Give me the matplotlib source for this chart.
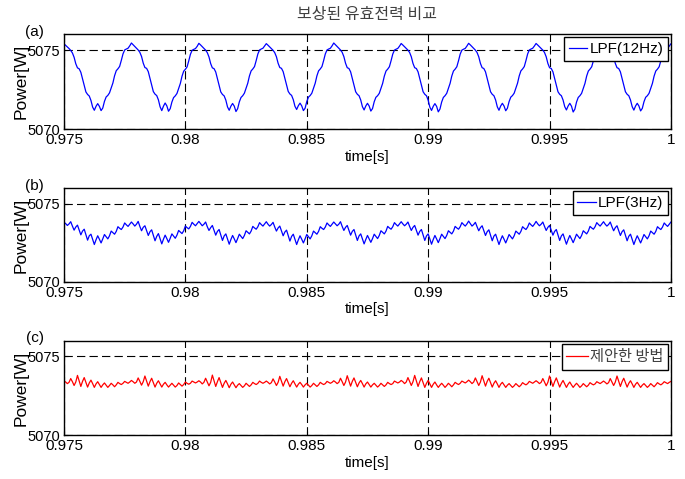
import numpy as np
import matplotlib
matplotlib.use("Agg")
import matplotlib.pyplot as plt

plt.rcParams['font.family'] = ['Liberation Sans', 'DejaVu Sans']

# labels
title = "보상된 유효전력 비교"
panel_tags = ["(a)", "(b)", "(c)"]
legend_labels = ["LPF(12Hz)", "LPF(3Hz)", "제안한 방법"]
line_colors = ["#0000ff", "#0000ff", "#ff0000"]
x_ticks = [0.975, 0.98, 0.985, 0.99, 0.995, 1.0]
x_tick_labels = ["0.975", "0.98", "0.985", "0.99", "0.995", "1"]
y_ticks = [5070, 5075]

# sample grid (0.975 s .. 1.0 s, 361 samples)
time = np.linspace(0.975, 1.0, 361)

# values, one line per 360 Hz cycle
power_lpf12 = [
    5075.40, 5075.30, 5075.20, 5075.10, 5074.98, 5074.82, 5074.55, 5074.14, 5073.88, 5073.82, 5073.60, 5073.18, 5072.76, 5072.36, 5072.20, 5072.10, 5071.82, 5071.40, 5071.20, 5071.45, 5071.62, 5071.45, 5071.18, 5071.34, 5071.76, 5072.04, 5072.14, 5072.30, 5072.60, 5072.92, 5073.38, 5073.70, 5073.82, 5073.97, 5074.35, 5074.76, 5075.01, 5075.07, 5075.12, 5075.27,
    5075.45, 5075.34, 5075.22, 5075.12, 5075.01, 5074.86, 5074.60, 5074.18, 5073.90, 5073.85, 5073.64, 5073.22, 5072.80, 5072.38, 5072.22, 5072.13, 5071.86, 5071.42, 5071.18, 5071.46, 5071.66, 5071.48, 5071.14, 5071.30, 5071.72, 5072.00, 5072.11, 5072.26, 5072.57, 5072.89, 5073.35, 5073.67, 5073.79, 5073.94, 5074.32, 5074.74, 5074.99, 5075.05, 5075.10, 5075.24,
    5075.43, 5075.33, 5075.22, 5075.11, 5075.00, 5074.84, 5074.57, 5074.15, 5073.88, 5073.83, 5073.62, 5073.20, 5072.78, 5072.36, 5072.20, 5072.11, 5071.84, 5071.41, 5071.20, 5071.46, 5071.63, 5071.46, 5071.12, 5071.30, 5071.73, 5072.01, 5072.12, 5072.28, 5072.59, 5072.91, 5073.37, 5073.69, 5073.81, 5073.96, 5074.34, 5074.76, 5075.01, 5075.07, 5075.12, 5075.26,
    5075.41, 5075.31, 5075.20, 5075.10, 5074.99, 5074.84, 5074.58, 5074.17, 5073.90, 5073.85, 5073.64, 5073.22, 5072.80, 5072.39, 5072.23, 5072.14, 5071.87, 5071.45, 5071.25, 5071.49, 5071.65, 5071.48, 5071.18, 5071.33, 5071.75, 5072.03, 5072.13, 5072.28, 5072.59, 5072.91, 5073.37, 5073.69, 5073.81, 5073.96, 5074.34, 5074.76, 5075.01, 5075.07, 5075.12, 5075.27,
    5075.45, 5075.34, 5075.23, 5075.12, 5075.01, 5074.86, 5074.59, 5074.17, 5073.89, 5073.84, 5073.63, 5073.21, 5072.79, 5072.37, 5072.21, 5072.12, 5071.85, 5071.43, 5071.22, 5071.47, 5071.64, 5071.47, 5071.15, 5071.31, 5071.74, 5072.02, 5072.12, 5072.27, 5072.58, 5072.90, 5073.36, 5073.68, 5073.80, 5073.95, 5074.33, 5074.75, 5075.00, 5075.06, 5075.11, 5075.25,
    5075.42, 5075.32, 5075.21, 5075.11, 5075.00, 5074.85, 5074.58, 5074.16, 5073.89, 5073.84, 5073.63, 5073.21, 5072.79, 5072.37, 5072.21, 5072.12, 5071.84, 5071.40, 5071.19, 5071.45, 5071.62, 5071.45, 5071.10, 5071.28, 5071.72, 5072.01, 5072.12, 5072.27, 5072.58, 5072.90, 5073.36, 5073.68, 5073.80, 5073.95, 5074.33, 5074.75, 5075.00, 5075.06, 5075.11, 5075.26,
    5075.43, 5075.33, 5075.22, 5075.11, 5075.00, 5074.85, 5074.58, 5074.16, 5073.89, 5073.84, 5073.63, 5073.21, 5072.79, 5072.37, 5072.21, 5072.12, 5071.85, 5071.42, 5071.20, 5071.47, 5071.64, 5071.47, 5071.17, 5071.33, 5071.75, 5072.03, 5072.13, 5072.28, 5072.59, 5072.91, 5073.37, 5073.69, 5073.81, 5073.96, 5074.34, 5074.76, 5075.01, 5075.07, 5075.12, 5075.26,
    5075.42, 5075.32, 5075.21, 5075.11, 5075.00, 5074.85, 5074.58, 5074.16, 5073.89, 5073.84, 5073.63, 5073.21, 5072.79, 5072.37, 5072.21, 5072.12, 5071.85, 5071.43, 5071.22, 5071.47, 5071.64, 5071.46, 5071.09, 5071.27, 5071.72, 5072.01, 5072.12, 5072.27, 5072.58, 5072.90, 5073.36, 5073.68, 5073.80, 5073.95, 5074.33, 5074.75, 5075.00, 5075.06, 5075.11, 5075.25,
    5075.42, 5075.32, 5075.21, 5075.11, 5075.00, 5074.85, 5074.58, 5074.16, 5073.89, 5073.84, 5073.63, 5073.21, 5072.79, 5072.37, 5072.21, 5072.12, 5071.85, 5071.43, 5071.21, 5071.47, 5071.64, 5071.47, 5071.16, 5071.32, 5071.74, 5072.02, 5072.12, 5072.27, 5072.58, 5072.90, 5073.36, 5073.68, 5073.80, 5073.95, 5074.33, 5074.75, 5075.00, 5075.06, 5075.11, 5075.25,
    5075.40,
]

power_lpf3 = [
    5073.82, 5073.74, 5073.62, 5073.72, 5073.86, 5073.58, 5073.32, 5073.52, 5073.64, 5073.32, 5073.02, 5073.26, 5073.38, 5073.04, 5072.68, 5072.96, 5073.06, 5072.74, 5072.40, 5072.70, 5072.96, 5072.74, 5072.50, 5072.76, 5073.04, 5072.90, 5072.76, 5072.96, 5073.26, 5073.16, 5073.06, 5073.24, 5073.54, 5073.44, 5073.36, 5073.52, 5073.78, 5073.66, 5073.56, 5073.70,
    5073.84, 5073.72, 5073.58, 5073.70, 5073.88, 5073.56, 5073.28, 5073.50, 5073.60, 5073.28, 5072.98, 5073.22, 5073.34, 5073.00, 5072.64, 5072.92, 5073.10, 5072.78, 5072.44, 5072.74, 5073.00, 5072.78, 5072.54, 5072.80, 5073.08, 5072.94, 5072.80, 5073.00, 5073.30, 5073.20, 5073.10, 5073.28, 5073.58, 5073.48, 5073.40, 5073.56, 5073.82, 5073.70, 5073.60, 5073.74,
    5073.88, 5073.74, 5073.60, 5073.70, 5073.84, 5073.54, 5073.30, 5073.48, 5073.62, 5073.30, 5073.00, 5073.24, 5073.36, 5073.02, 5072.66, 5072.95, 5073.08, 5072.76, 5072.42, 5072.72, 5072.98, 5072.76, 5072.52, 5072.78, 5073.06, 5072.92, 5072.78, 5072.98, 5073.28, 5073.18, 5073.08, 5073.26, 5073.56, 5073.46, 5073.38, 5073.54, 5073.80, 5073.68, 5073.58, 5073.72,
    5073.86, 5073.70, 5073.58, 5073.68, 5073.82, 5073.52, 5073.26, 5073.46, 5073.58, 5073.26, 5072.96, 5073.20, 5073.32, 5072.98, 5072.62, 5072.92, 5073.06, 5072.74, 5072.40, 5072.70, 5072.96, 5072.74, 5072.50, 5072.76, 5073.04, 5072.90, 5072.76, 5072.96, 5073.26, 5073.16, 5073.06, 5073.24, 5073.54, 5073.44, 5073.36, 5073.52, 5073.78, 5073.66, 5073.56, 5073.70,
    5073.84, 5073.72, 5073.60, 5073.70, 5073.86, 5073.56, 5073.30, 5073.50, 5073.62, 5073.30, 5073.00, 5073.24, 5073.36, 5073.02, 5072.66, 5072.95, 5073.08, 5072.76, 5072.44, 5072.72, 5072.98, 5072.76, 5072.54, 5072.78, 5073.06, 5072.92, 5072.78, 5072.98, 5073.28, 5073.18, 5073.08, 5073.26, 5073.56, 5073.46, 5073.38, 5073.54, 5073.80, 5073.68, 5073.58, 5073.72,
    5073.86, 5073.72, 5073.60, 5073.70, 5073.84, 5073.56, 5073.30, 5073.50, 5073.62, 5073.30, 5073.00, 5073.24, 5073.36, 5073.02, 5072.66, 5072.95, 5073.08, 5072.76, 5072.42, 5072.72, 5072.98, 5072.76, 5072.52, 5072.78, 5073.06, 5072.92, 5072.78, 5072.98, 5073.28, 5073.18, 5073.08, 5073.26, 5073.56, 5073.46, 5073.38, 5073.54, 5073.80, 5073.68, 5073.58, 5073.72,
    5073.90, 5073.74, 5073.58, 5073.68, 5073.82, 5073.54, 5073.28, 5073.48, 5073.60, 5073.28, 5072.98, 5073.22, 5073.34, 5073.00, 5072.64, 5072.94, 5073.06, 5072.74, 5072.40, 5072.70, 5072.96, 5072.74, 5072.50, 5072.76, 5073.04, 5072.90, 5072.76, 5072.96, 5073.26, 5073.16, 5073.06, 5073.24, 5073.54, 5073.44, 5073.36, 5073.52, 5073.78, 5073.66, 5073.56, 5073.70,
    5073.88, 5073.72, 5073.60, 5073.70, 5073.84, 5073.56, 5073.30, 5073.50, 5073.62, 5073.30, 5073.00, 5073.24, 5073.36, 5073.02, 5072.66, 5072.95, 5073.08, 5072.76, 5072.42, 5072.72, 5072.98, 5072.76, 5072.52, 5072.78, 5073.06, 5072.92, 5072.78, 5072.98, 5073.28, 5073.18, 5073.08, 5073.26, 5073.56, 5073.46, 5073.38, 5073.54, 5073.80, 5073.68, 5073.58, 5073.72,
    5073.86, 5073.70, 5073.58, 5073.68, 5073.84, 5073.54, 5073.28, 5073.48, 5073.60, 5073.28, 5072.98, 5073.22, 5073.34, 5073.00, 5072.64, 5072.93, 5073.06, 5072.74, 5072.40, 5072.70, 5072.96, 5072.74, 5072.50, 5072.76, 5073.04, 5072.90, 5072.76, 5072.96, 5073.26, 5073.16, 5073.06, 5073.24, 5073.54, 5073.44, 5073.36, 5073.52, 5073.78, 5073.66, 5073.56, 5073.70,
    5073.84,
]

power_proposed = [
    5073.44, 5073.38, 5073.28, 5073.36, 5073.60, 5073.40, 5073.16, 5073.38, 5073.80, 5073.46, 5073.10, 5073.42, 5073.66, 5073.36, 5073.06, 5073.32, 5073.50, 5073.28, 5073.04, 5073.26, 5073.40, 5073.22, 5073.04, 5073.20, 5073.32, 5073.18, 5073.04, 5073.16, 5073.30, 5073.20, 5073.08, 5073.20, 5073.36, 5073.28, 5073.22, 5073.30, 5073.42, 5073.36, 5073.30, 5073.38,
    5073.48, 5073.40, 5073.30, 5073.38, 5073.64, 5073.42, 5073.18, 5073.40, 5073.76, 5073.44, 5073.12, 5073.40, 5073.62, 5073.34, 5073.06, 5073.30, 5073.46, 5073.26, 5073.06, 5073.24, 5073.36, 5073.20, 5073.06, 5073.18, 5073.30, 5073.18, 5073.06, 5073.16, 5073.32, 5073.22, 5073.12, 5073.22, 5073.38, 5073.30, 5073.24, 5073.30, 5073.44, 5073.38, 5073.32, 5073.38,
    5073.46, 5073.38, 5073.26, 5073.36, 5073.62, 5073.38, 5073.14, 5073.36, 5073.82, 5073.46, 5073.10, 5073.40, 5073.66, 5073.34, 5073.04, 5073.30, 5073.48, 5073.26, 5073.02, 5073.24, 5073.38, 5073.20, 5073.02, 5073.18, 5073.28, 5073.16, 5073.04, 5073.14, 5073.30, 5073.20, 5073.10, 5073.20, 5073.36, 5073.28, 5073.22, 5073.30, 5073.44, 5073.36, 5073.30, 5073.36,
    5073.44, 5073.36, 5073.26, 5073.34, 5073.58, 5073.38, 5073.16, 5073.36, 5073.74, 5073.44, 5073.12, 5073.40, 5073.60, 5073.34, 5073.08, 5073.30, 5073.46, 5073.26, 5073.06, 5073.24, 5073.36, 5073.22, 5073.06, 5073.20, 5073.30, 5073.18, 5073.06, 5073.16, 5073.30, 5073.20, 5073.10, 5073.20, 5073.36, 5073.28, 5073.22, 5073.28, 5073.42, 5073.36, 5073.30, 5073.36,
    5073.46, 5073.38, 5073.28, 5073.36, 5073.62, 5073.40, 5073.16, 5073.38, 5073.78, 5073.46, 5073.12, 5073.42, 5073.64, 5073.36, 5073.08, 5073.32, 5073.48, 5073.28, 5073.06, 5073.26, 5073.38, 5073.22, 5073.06, 5073.20, 5073.30, 5073.18, 5073.06, 5073.16, 5073.30, 5073.20, 5073.10, 5073.20, 5073.36, 5073.28, 5073.22, 5073.28, 5073.44, 5073.38, 5073.32, 5073.38,
    5073.48, 5073.40, 5073.28, 5073.38, 5073.66, 5073.42, 5073.16, 5073.40, 5073.80, 5073.46, 5073.10, 5073.40, 5073.64, 5073.34, 5073.04, 5073.30, 5073.48, 5073.26, 5073.04, 5073.24, 5073.38, 5073.20, 5073.04, 5073.18, 5073.30, 5073.18, 5073.04, 5073.16, 5073.30, 5073.20, 5073.08, 5073.20, 5073.36, 5073.28, 5073.22, 5073.30, 5073.44, 5073.38, 5073.32, 5073.40,
    5073.50, 5073.40, 5073.28, 5073.38, 5073.64, 5073.40, 5073.16, 5073.38, 5073.78, 5073.46, 5073.12, 5073.42, 5073.62, 5073.34, 5073.06, 5073.30, 5073.46, 5073.26, 5073.04, 5073.24, 5073.36, 5073.20, 5073.04, 5073.18, 5073.28, 5073.16, 5073.04, 5073.14, 5073.28, 5073.18, 5073.08, 5073.18, 5073.34, 5073.26, 5073.20, 5073.28, 5073.42, 5073.36, 5073.30, 5073.38,
    5073.46, 5073.38, 5073.28, 5073.36, 5073.60, 5073.38, 5073.14, 5073.36, 5073.76, 5073.44, 5073.10, 5073.40, 5073.64, 5073.34, 5073.06, 5073.30, 5073.48, 5073.26, 5073.04, 5073.24, 5073.38, 5073.20, 5073.04, 5073.18, 5073.30, 5073.18, 5073.04, 5073.14, 5073.28, 5073.18, 5073.08, 5073.18, 5073.34, 5073.26, 5073.20, 5073.26, 5073.40, 5073.34, 5073.28, 5073.36,
    5073.44, 5073.36, 5073.26, 5073.34, 5073.60, 5073.38, 5073.16, 5073.38, 5073.76, 5073.44, 5073.10, 5073.40, 5073.62, 5073.34, 5073.06, 5073.30, 5073.46, 5073.26, 5073.04, 5073.24, 5073.36, 5073.20, 5073.04, 5073.18, 5073.28, 5073.16, 5073.04, 5073.14, 5073.28, 5073.18, 5073.08, 5073.20, 5073.34, 5073.26, 5073.20, 5073.28, 5073.40, 5073.34, 5073.28, 5073.36,
    5073.42,
]

series = [power_lpf12, power_lpf3, power_proposed]
rects = [
    [0.0934, 0.7301, 0.8861, 0.1983],
    [0.0934, 0.4113, 0.8861, 0.1956],
    [0.0934, 0.0912, 0.8861, 0.1975],
]
kr_font = ['Noto Sans CJK KR', 'DejaVu Sans']

fig = plt.figure(figsize=(6.85, 4.79), dpi=100)
fig.text(0.536, 0.969, title, ha='center', va='center', fontsize=11.5,
         family=kr_font, color='#404040')

for i, (rect, vals) in enumerate(zip(rects, series)):
    ax = fig.add_axes(rect)
    ax.plot(time, vals, color=line_colors[i], lw=0.9, label=legend_labels[i])
    ax.set_xlim(0.975, 1.0)
    ax.set_ylim(5070, 5076)
    ax.set_xticks(x_ticks)
    ax.set_xticklabels(x_tick_labels)
    ax.set_yticks(y_ticks)
    ax.grid(True, color='black', linestyle=(0, (7.5, 3.75)), linewidth=0.8)
    ax.tick_params(direction='in', length=3, pad=3)
    ax.tick_params(axis='x', labelsize=11)
    ax.tick_params(axis='y', labelsize=10.5, pad=3)
    for s in ax.spines.values():
        s.set_linewidth(1.0)
    ax.set_ylabel("Power[W]", fontsize=12.5)
    ax.yaxis.set_label_coords(-0.058, 0.5)
    ax.set_xlabel("time[s]", fontsize=11)
    ax.xaxis.set_label_coords(0.5, -0.215)
    ax.text(-0.048, 1.025, panel_tags[i], transform=ax.transAxes,
            ha='center', va='center', fontsize=11)

    if i == 2:
        prop = {'family': kr_font, 'size': 11}
        hl = 1.4
    else:
        prop = {'size': 11}
        hl = 1.2
    leg = ax.legend(loc='upper right', prop=prop, handlelength=hl,
                    handletextpad=0.15, borderpad=0.3, borderaxespad=0.2,
                    fancybox=False, edgecolor='black', framealpha=1.0)
    leg.get_frame().set_linewidth(1.0)
    if i == 2:
        leg.get_texts()[0].set_color('#404040')

fig.savefig("out.png", dpi=100)
